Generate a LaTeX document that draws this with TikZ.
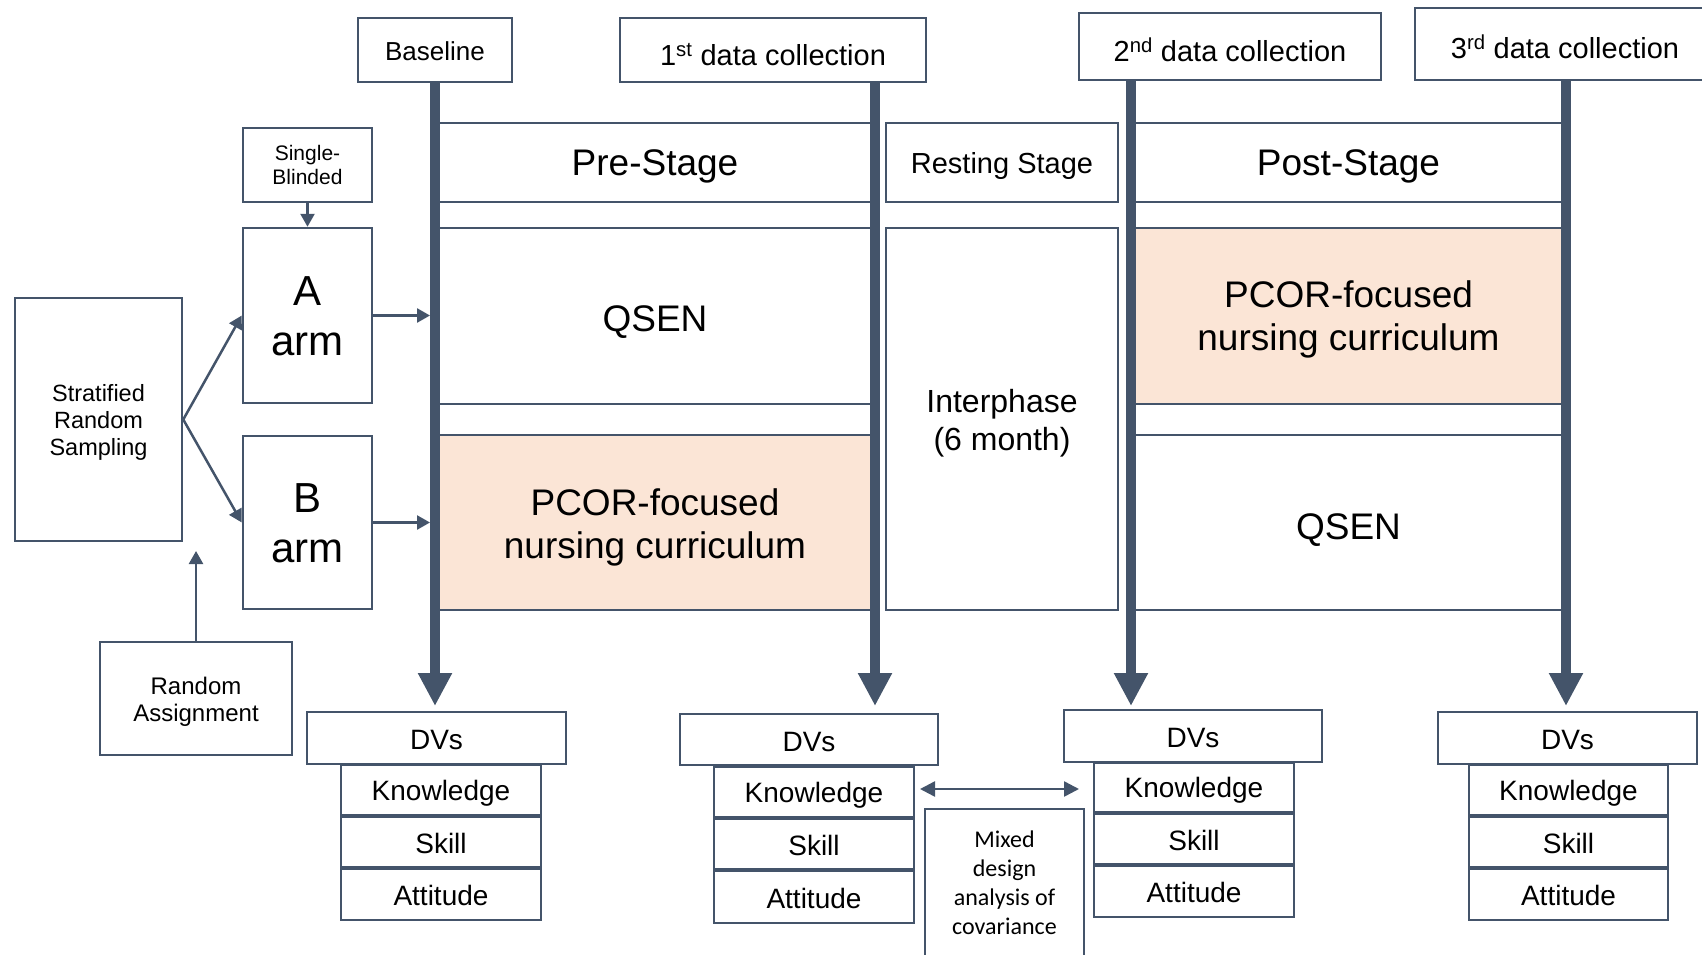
\documentclass[tikz,border=0pt]{standalone}
\usepackage{fontspec}
\setmainfont{Liberation Sans}
\newfontfamily\calib{Carlito}
\usetikzlibrary{arrows.meta}
\definecolor{lc}{HTML}{44546A}
\definecolor{peach}{HTML}{FBE5D6}
\newcommand{\fs}[2]{\fontsize{#1}{#2}\selectfont}
% #1 name, #2-#5 corners, #6 frame style, #7 font, #8 text, #9 vertical text shift (pt, negative = down)
\newcommand{\mybox}[9]{%
 \node[#6,minimum width={(#4-#2)*1pt},minimum height={(#5-#3)*1pt}] (#1) at ({(#2+#4)/2},{(#3+#5)/2}) {};
 \node[txt,font=#7] (#1-t) at ([yshift=#9pt]#1.center) {#8};}
\begin{document}
\begin{tikzpicture}[x=1pt,y={(0pt,-1pt)},
 box/.style={draw=lc,line width=2.5pt,inner sep=0pt,fill=white},
 peachbox/.style={box,fill=peach},
 txt/.style={align=center,inner sep=0pt,text depth=0pt,text=black},
 timeline/.style={draw=lc,line width=10pt,-{Triangle[length=33pt,width=32pt]}},
 conn/.style={draw=lc,line width=2.5pt,-{Triangle[length=13pt,width=14pt]}},
 dconn/.style={draw=lc,line width=2.5pt,{Triangle[length=15pt,width=15pt]}-{Triangle[length=15pt,width=15pt]}}]
\useasboundingbox (0,0) rectangle (1702,955);
\clip (0,0) rectangle (1702,955);
% top boxes
\mybox{base}{358}{18}{512}{82}{box}{\fs{26}{31}}{Baseline}{-1}
\mybox{dc1}{620}{18}{926}{82}{box}{\fs{29}{34}}{1\textsuperscript{st} data collection}{-4}
\mybox{dc2}{1079}{13}{1381}{80}{box}{\fs{29}{34}}{2\textsuperscript{nd} data collection}{-3}
\mybox{dc3}{1415}{8}{1715}{80}{box}{\fs{29}{34}}{3\textsuperscript{rd} data collection}{-3}
% stage bands
\mybox{pre}{435}{123}{875}{202}{box}{\fs{37}{43}}{Pre-Stage}{0}
\mybox{rest}{886}{123}{1118}{202}{box}{\fs{29}{34}}{Resting Stage}{0}
\mybox{post}{1131}{123}{1566}{202}{box}{\fs{37}{43}}{Post-Stage}{0}
\mybox{preA}{435}{228}{875}{404}{box}{\fs{37}{43}}{QSEN}{-3}
\mybox{preB}{435}{435}{875}{610}{peachbox}{\fs{37}{43}}{PCOR-focused\\nursing curriculum}{-1.5}
\mybox{inter}{886}{228}{1118}{610}{box}{\fs{32}{38}}{Interphase\\(6 month)}{-1}
\mybox{postA}{1131}{228}{1566}{404}{peachbox}{\fs{37}{43}}{PCOR-focused\\nursing curriculum}{0}
\mybox{postB}{1131}{435}{1566}{610}{box}{\fs{37}{43}}{QSEN}{-4.5}
% left side
\mybox{sb}{243}{128}{372}{202}{box}{\fs{21}{24}}{Single-\\Blinded}{0}
\mybox{armA}{243}{228}{372}{403}{box}{\fs{42}{50}}{A\\arm}{-1}
\mybox{armB}{243}{436}{372}{609}{box}{\fs{42}{50}}{B\\arm}{-1}
\mybox{strat}{15}{298}{182}{541}{box}{\fs{23.5}{27}}{Stratified\\Random\\Sampling}{-0.5}
\mybox{ra}{100}{642}{292}{755}{box}{\fs{24}{27}}{Random\\Assignment}{-0.5}
% DVs
\mybox{dvA}{307}{712}{566}{764}{box}{\fs{28}{33}}{DVs}{-2}
\mybox{kA}{341}{765}{541}{815}{box}{\fs{28}{33}}{Knowledge}{0}
\mybox{sA}{341}{817}{541}{867}{box}{\fs{28}{33}}{Skill}{-1}
\mybox{aA}{341}{869}{541}{920}{box}{\fs{28}{33}}{Attitude}{-1}
\mybox{dvB}{680}{714}{938}{765}{box}{\fs{28}{33}}{DVs}{-2}
\mybox{kB}{714}{767}{914}{817}{box}{\fs{28}{33}}{Knowledge}{0}
\mybox{sB}{714}{819}{914}{869}{box}{\fs{28}{33}}{Skill}{-1}
\mybox{aB}{714}{871}{914}{923}{box}{\fs{28}{33}}{Attitude}{-1}
\mybox{dvC}{1064}{710}{1322}{762}{box}{\fs{28}{33}}{DVs}{-2}
\mybox{kC}{1094}{763}{1294}{812}{box}{\fs{28}{33}}{Knowledge}{0}
\mybox{sC}{1094}{814}{1294}{864}{box}{\fs{28}{33}}{Skill}{-1}
\mybox{aC}{1094}{866}{1294}{917}{box}{\fs{28}{33}}{Attitude}{-1}
\mybox{dvD}{1438}{712}{1697}{764}{box}{\fs{28}{33}}{DVs}{-2}
\mybox{kD}{1469}{765}{1668}{815}{box}{\fs{28}{33}}{Knowledge}{0}
\mybox{sD}{1469}{817}{1668}{867}{box}{\fs{28}{33}}{Skill}{-1}
\mybox{aD}{1469}{869}{1668}{920}{box}{\fs{28}{33}}{Attitude}{-1}
\mybox{mix}{925}{809}{1084}{960}{box}{\calib\fs{24}{29}}{Mixed\\design\\analysis of\\covariance}{2}
% timelines
\coordinate (t0) at (435,706);
\coordinate (t1) at (875,706);
\coordinate (t2) at (1131,706);
\coordinate (t3) at (1566,706);
\draw[timeline] (base.south -| t0) -- (t0);
\draw[timeline] (dc1.south -| t1) -- (t1);
\draw[timeline] (dc2.south -| t2) -- (t2);
\draw[timeline] (dc3.south -| t3) -- (t3);
% connectors
\coordinate (lineL) at (430,0);
\draw[conn] (armA.east) -- (armA.east -| lineL);
\draw[conn] (armB.east) -- (armB.east -| lineL);
\draw[conn] (sb.south) -- (armA.north);
\draw[conn] (strat.east) -- (armA.west);
\draw[conn] (strat.east) -- (armB.west);
\coordinate (raEnd) at (196,551);
\draw[conn] (ra.north) -- (raEnd);
\coordinate (m1) at (920,789);
\coordinate (m2) at (1079,789);
\draw[dconn] (m1) -- (m2);
\end{tikzpicture}
\end{document}
